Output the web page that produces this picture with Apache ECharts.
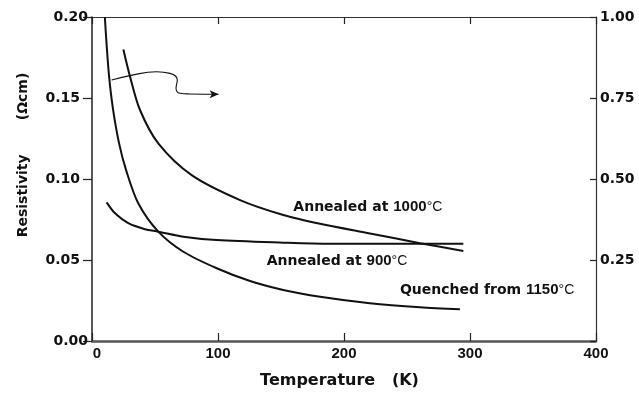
<!DOCTYPE html>
<html>
<head>
<meta charset="utf-8">
<script src="https://cdn.jsdelivr.net/npm/echarts@6/dist/echarts.min.js"></script>
<style>
  html, body { margin: 0; padding: 0; background: #fff; }
  #chartmain { width: 639px; height: 395px; }
</style>
</head>
<body>
<div id="chartmain"></div>
<script>
// temperature (K) and resistivity values
var quenchedT = [10.2, 11.5, 13.6, 16.7, 21.5, 27.0, 36.7, 52.6, 72.5, 99, 125.4, 151.8, 181, 220.6, 260.3, 292];
var quenchedRho = [0.200, 0.184, 0.163, 0.143, 0.122, 0.1056, 0.085, 0.0675, 0.0551, 0.0449, 0.037, 0.0315, 0.0273, 0.0233, 0.0208, 0.0196];

var anneal900T = [11.6, 18.3, 28.8, 42, 52.6, 72.5, 99, 151.8, 188.9, 294.7];
var anneal900Rho = [0.0856, 0.0788, 0.0727, 0.069, 0.0675, 0.0644, 0.0623, 0.0607, 0.0600, 0.0600];

// right hand axis
var anneal1000T = [24.9, 30.2, 38.1, 52.6, 79.1, 117.5, 151.8, 181, 220.6, 260.3, 294.7];
var anneal1000Rho = [0.900, 0.816, 0.713, 0.610, 0.512, 0.435, 0.389, 0.362, 0.332, 0.302, 0.278];

// wiggly arrow pointing to the right axis
var arrowT = [15.6, 30.2, 51.3, 61.9, 67.7, 66.7, 69.8, 77.8, 100.5];
var arrowRho = [0.1611, 0.1638, 0.1662, 0.1652, 0.1611, 0.156, 0.1529, 0.1525, 0.1523];

// curve labels (left edge of the text, in data units)
var labelWords = ['Annealed at ', 'Annealed at ', 'Quenched from '];
var labelNums = ['1000', '900', '1150'];
var labelT = [159.8, 138.6, 244.4];
var labelRho = [0.0825, 0.0494, 0.0315];

var leftTicks = ['0.00', '0.05', '0.10', '0.15', '0.20'];
var rightTicks = ['', '0.25', '0.50', '0.75', '1.00'];

function pairs(a, b) {
  var out = [];
  for (var i = 0; i < a.length; i++) out.push([a[i], b[i]]);
  return out;
}

var chartmain = echarts.init(document.getElementById('chartmain'));

var arrowData = pairs(arrowT, arrowRho);
arrowData[arrowData.length - 1] = {
  value: arrowData[arrowData.length - 1],
  symbol: 'arrow', symbolSize: [6, 9], symbolRotate: -90
};

var labelData = [];
for (var i = 0; i < labelT.length; i++) {
  labelData.push({ value: [labelT[i], labelRho[i]], name: i });
}

var lineStyle = { color: '#111', width: 2 };
var numFont = 'Liberation Sans Narrow, Liberation Sans';

chartmain.setOption({
  animation: false,
  backgroundColor: '#fff',
  grid: { left: 92, right: 43, top: 17, bottom: 54, containLabel: false },
  xAxis: [
    {
      type: 'value', min: 0, max: 400, interval: 100, position: 'bottom',
      name: 'Temperature   (K)', nameLocation: 'middle', nameGap: 32,
      nameTextStyle: { fontFamily: 'DejaVu Sans', fontWeight: 'bold', fontSize: 16, color: '#111', padding: [0, 9, 0, 0] },
      axisLine: { show: true, onZero: false, lineStyle: { color: '#555', width: 2.5 } },
      axisTick: { show: true, inside: true, length: 8, lineStyle: { color: '#222', width: 1.2 } },
      splitLine: { show: false },
      axisLabel: {
        margin: 5, color: '#111', fontFamily: 'Liberation Sans', fontWeight: 'bold', fontSize: 15,
        formatter: function (v) { return v === 0 ? '{z|0}' : String(v); },
        rich: { z: { padding: [0, 0, 0, 10], fontFamily: 'Liberation Sans', fontWeight: 'bold', fontSize: 15, color: '#111' } }
      }
    },
    {
      type: 'value', min: 0, max: 400, interval: 100, position: 'top',
      axisLine: { show: true, onZero: false, lineStyle: { color: '#333', width: 1.2 } },
      axisTick: { show: true, inside: true, length: 7, lineStyle: { color: '#222', width: 1.2 } },
      axisLabel: { show: false },
      splitLine: { show: false }
    }
  ],
  yAxis: [
    {
      type: 'value', min: 0, max: 0.2, interval: 0.05, position: 'left',
      name: 'Resistivity       (Ωcm)', nameLocation: 'middle', nameGap: 62,
      nameTextStyle: { fontFamily: 'DejaVu Sans', fontWeight: 'bold', fontSize: 14, color: '#111', padding: [0, 0, 0, 48] },
      axisLine: { show: true, onZero: false, lineStyle: { color: '#222', width: 1.5 } },
      axisTick: { show: true, inside: false, length: 9, lineStyle: { color: '#222', width: 1.2 } },
      splitLine: { show: false },
      axisLabel: {
        margin: 4,
        formatter: function (v, idx) {
          var t = leftTicks[idx];
          return (idx === 0 || idx === leftTicks.length - 1) ? '{e|' + t + '}' : '{m|' + t + '}';
        },
        rich: {
          e: { fontFamily: 'DejaVu Sans', fontWeight: 'bold', fontSize: 14, color: '#111' },
          m: { fontFamily: 'DejaVu Sans', fontWeight: 'bold', fontSize: 14, color: '#111', padding: [0, 8, 0, 0] }
        }
      }
    },
    {
      type: 'value', min: 0, max: 1, interval: 0.25, position: 'right',
      axisLine: { show: true, onZero: false, lineStyle: { color: '#333', width: 1.2 } },
      axisTick: { show: true, inside: true, length: 6, lineStyle: { color: '#222', width: 1.2 } },
      splitLine: { show: false },
      axisLabel: {
        margin: 4, color: '#111', fontFamily: 'DejaVu Sans', fontWeight: 'bold', fontSize: 14,
        formatter: function (v, idx) { return rightTicks[idx]; }
      }
    }
  ],
  series: [
    {
      name: 'Quenched from 1150°C', type: 'line', xAxisIndex: 0, yAxisIndex: 0,
      data: pairs(quenchedT, quenchedRho), smooth: 0.3, symbol: 'none',
      lineStyle: lineStyle, silent: true
    },
    {
      name: 'Annealed at 900°C', type: 'line', xAxisIndex: 0, yAxisIndex: 0,
      data: pairs(anneal900T, anneal900Rho), smooth: 0.3, symbol: 'none',
      lineStyle: lineStyle, silent: true
    },
    {
      name: 'Annealed at 1000°C', type: 'line', xAxisIndex: 0, yAxisIndex: 1,
      data: pairs(anneal1000T, anneal1000Rho), smooth: 0.3, symbol: 'none',
      lineStyle: lineStyle, silent: true
    },
    {
      name: 'arrow', type: 'line', xAxisIndex: 0, yAxisIndex: 0,
      data: arrowData, smooth: 0.5, symbol: 'none', showSymbol: true,
      itemStyle: { color: '#111' },
      lineStyle: { color: '#111', width: 1.1 }, silent: true
    },
    {
      name: 'labels', type: 'scatter', xAxisIndex: 0, yAxisIndex: 0,
      data: labelData, symbolSize: 0, silent: true,
      itemStyle: { opacity: 1 },
      label: {
        show: true, position: 'right', distance: 0, color: '#111', textBorderWidth: 0,
        formatter: function (p) {
          return '{w|' + labelWords[p.name] + '}{n|' + labelNums[p.name] + '}{c|°C}';
        },
        rich: {
          w: { fontFamily: 'DejaVu Sans', fontWeight: 'bold', fontSize: 14, color: '#111' },
          n: { fontFamily: numFont, fontWeight: 'bold', fontSize: 15, color: '#111' },
          c: { fontFamily: 'Liberation Sans', fontWeight: 'normal', fontSize: 14, color: '#111' }
        }
      }
    }
  ]
});
</script>
</body>
</html>
